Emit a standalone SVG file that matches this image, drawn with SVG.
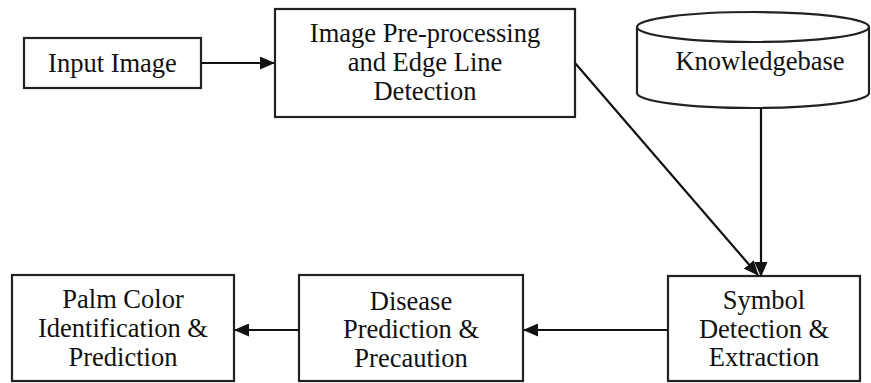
<svg xmlns="http://www.w3.org/2000/svg" width="871" height="383" viewBox="0 0 871 383">
<style>
.box{fill:#fff;stroke:#222;stroke-width:2.2}
.t{font-family:"Liberation Serif","Times New Roman",serif;font-size:26.5px;fill:#111;text-anchor:middle}
.c{stroke:#111;stroke-width:2.2;fill:none}
</style>
<defs>
<marker id="ah" markerWidth="15" markerHeight="13" refX="14" refY="6.5" orient="auto" markerUnits="userSpaceOnUse">
<path d="M0,0 L15,6.5 L0,13 Z" fill="#111"/>
</marker>
</defs>
<rect width="871" height="383" fill="#fff"/>
<g id="input">
<rect class="box" x="24" y="38" width="177" height="50"/>
<text class="t" x="112.5" y="72">Input Image</text>
</g>
<g id="preproc">
<rect class="box" x="275" y="9" width="300" height="108"/>
<text class="t" x="425" y="42">Image Pre-processing</text>
<text class="t" x="425" y="71">and Edge Line</text>
<text class="t" x="425" y="100">Detection</text>
</g>
<g id="kb">
<path class="box" d="M637,27 L637,93 A116,15 0 0 0 869,93 L869,27"/>
<ellipse class="box" cx="753" cy="27" rx="116" ry="15"/>
<text class="t" x="760" y="70">Knowledgebase</text>
</g>
<g id="symbol">
<rect class="box" x="668" y="276" width="192" height="105"/>
<text class="t" x="764" y="309">Symbol</text>
<text class="t" x="764" y="338">Detection &amp;</text>
<text class="t" x="764" y="366">Extraction</text>
</g>
<g id="disease">
<rect class="box" x="299" y="275" width="224" height="106"/>
<text class="t" x="411" y="310">Disease</text>
<text class="t" x="411" y="338">Prediction &amp;</text>
<text class="t" x="411" y="367">Precaution</text>
</g>
<g id="palm">
<rect class="box" x="12" y="275" width="222" height="106"/>
<text class="t" x="123" y="308">Palm Color</text>
<text class="t" x="123" y="337">Identification &amp;</text>
<text class="t" x="123" y="366">Prediction</text>
</g>
<g id="connectors">
<line class="c" x1="201" y1="63" x2="274" y2="63" marker-end="url(#ah)"/>
<line class="c" x1="575" y1="63" x2="758" y2="275" marker-end="url(#ah)"/>
<line class="c" x1="761" y1="108" x2="761" y2="276" marker-end="url(#ah)"/>
<line class="c" x1="668" y1="330" x2="524" y2="330" marker-end="url(#ah)"/>
<line class="c" x1="299" y1="330" x2="235" y2="330" marker-end="url(#ah)"/>
</g>
</svg>
